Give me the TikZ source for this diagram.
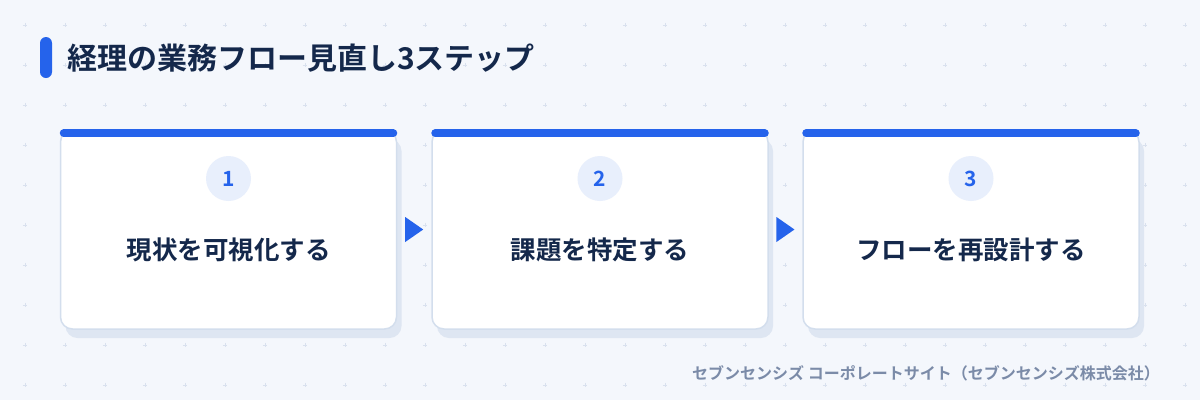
\documentclass[tikz,border=0pt]{standalone}
\usepackage{fontspec}
\setmainfont{Noto Sans CJK JP}[BoldFont={Noto Sans CJK JP Bold}]
\usetikzlibrary{calc,shapes.geometric}
\definecolor{bgc}{HTML}{F4F7FC}
\definecolor{gridc}{HTML}{D9E1EE}
\definecolor{accent}{HTML}{2563EB}
\definecolor{cardline}{HTML}{D3DEED}
\definecolor{shadowc}{HTML}{DEE6F2}
\definecolor{circfill}{HTML}{E8EFFC}
\definecolor{ink}{HTML}{14284B}
\definecolor{footc}{HTML}{7B8BA8}
\begin{document}
\begin{tikzpicture}[x=1pt,y=-1pt,
  card/.style={draw=cardline, line width=1.5pt, fill=white, rounded corners=12pt,
    minimum width=336pt, minimum height=199pt, inner sep=0pt},
  cardshadow/.style={fill=shadowc, rounded corners=12pt,
    minimum width=336pt, minimum height=199pt, inner sep=0pt},
  topbar/.style={draw=accent, line width=8pt, line cap=round},
  numcirc/.style={circle, fill=circfill, minimum size=45pt, inner sep=0pt,
    text=accent, font=\bfseries\fontsize{21}{21}\selectfont},
  steptext/.style={text=ink, font=\bfseries\fontsize{25.5}{26}\selectfont, inner sep=0pt},
  flowtri/.style={isosceles triangle, isosceles triangle stretches, fill=accent,
    minimum width=25pt, minimum height=18pt, inner sep=0pt},
  gridmark/.style={draw=gridc, line width=0.8pt},
  titlebar/.style={fill=accent, rounded corners=6pt, minimum width=12pt,
    minimum height=41pt, inner sep=0pt},
  titletext/.style={text=ink, font=\bfseries\fontsize{30}{32}\selectfont, inner sep=0pt, anchor=west},
  foottext/.style={text=footc, font=\bfseries\fontsize{16}{17}\selectfont, inner sep=0pt, anchor=east},
]
\fill[bgc] (0,0) rectangle (1200,400);
\useasboundingbox (0,0) rectangle (1200,400);
% background grid marks
\foreach \i in {0,...,29}{
  \foreach \j in {0,...,9}{
    \draw[gridmark] (25+40*\i,25+40*\j) +(-2.2,0) -- +(2.2,0) +(0,-2.2) -- +(0,2.2);
  }
}
% title
\node[titlebar] (tb) at (46,57.5) {};
\node[titletext] (title) at (67,58) {経理の業務フロー見直し3ステップ};
% card shadows
\node[cardshadow] (s1) at (233.5,238.5) {};
\node[cardshadow] (s2) at (605,238.5) {};
\node[cardshadow] (s3) at (976,238.5) {};
% cards
\node[card] (c1) at (228.5,229.5) {};
\node[card] (c2) at (600,229.5) {};
\node[card] (c3) at (971,229.5) {};
% top bars
\foreach \c in {c1,c2,c3}{
  \draw[topbar] ([xshift=4pt,yshift=-4pt]\c.north west) -- ([xshift=-4pt,yshift=-4pt]\c.north east);
}
% numbers
\node[numcirc] (n1) at (228.5,178.5) {1};
\node[numcirc] (n2) at (600,178.5) {2};
\node[numcirc] (n3) at (971,178.5) {3};
% step texts
\node[steptext] (t1) at (228.5,250) {現状を可視化する};
\node[steptext] (t2) at (600,250) {課題を特定する};
\node[steptext] (t3) at (971,250) {フローを再設計する};
% arrows
\node[flowtri, xshift=-2.5pt] (a1) at ($(c1.east)!0.5!(c2.west)$) {};
\node[flowtri, xshift=-2.5pt] (a2) at ($(c2.east)!0.5!(c3.west)$) {};
% footer
\node[foottext] (foot) at (1160,373) {セブンセンシズ コーポレートサイト（セブンセンシズ株式会社）};
\end{tikzpicture}
\end{document}
